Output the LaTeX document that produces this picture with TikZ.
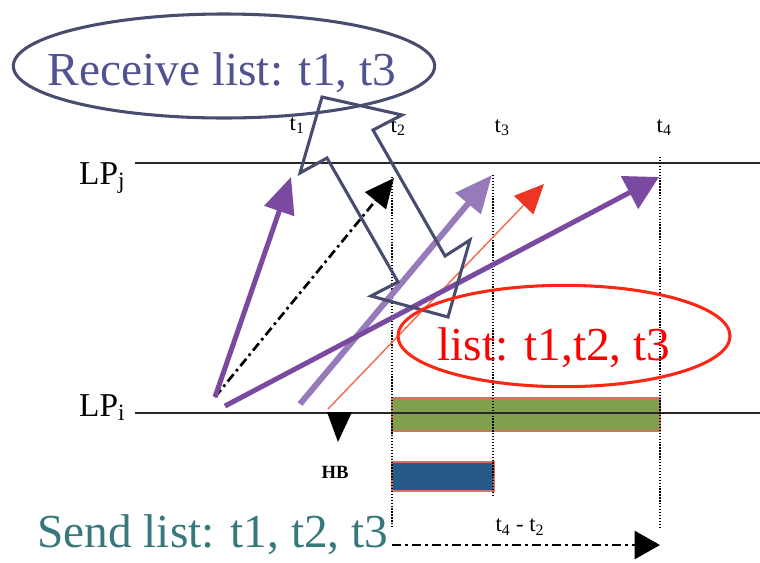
\documentclass[tikz,border=0pt]{standalone}
\usepackage{fontspec}
\setmainfont{Liberation Serif}
\usetikzlibrary{arrows.meta,shapes.geometric}
\definecolor{slateline}{RGB}{72,77,112}
\definecolor{recvtext}{RGB}{80,82,145}
\definecolor{purparrow}{RGB}{122,74,160}
\definecolor{lightpurp}{RGB}{150,122,186}
\definecolor{orangeline}{RGB}{242,112,80}
\definecolor{orangehead}{RGB}{238,52,35}
\definecolor{greenbar}{RGB}{128,160,75}
\definecolor{barborder}{RGB}{215,112,95}
\definecolor{bluebar}{RGB}{38,90,135}
\definecolor{tealtext}{RGB}{55,120,125}
\definecolor{redline}{RGB}{250,40,20}
\definecolor{axisgray}{RGB}{40,40,40}
\tikzset{
  bigtext/.style={font=\fontsize{35.5}{40}\selectfont},
  lplabel/.style={font=\fontsize{25}{28}\selectfont, anchor=base east},
  tlabel/.style={font=\fontsize{17}{19}\selectfont, anchor=base west},
  axis/.style={draw=axisgray, line width=1.8pt},
  guide/.style={draw=black, line width=1pt, dash pattern=on 1pt off 1.2pt},
  dashdot/.style={dash pattern=on 7pt off 3pt on 2pt off 3pt},
  bar/.style={draw=barborder, line width=0.8pt},
}
\begin{document}
\begin{tikzpicture}[x=0.75pt,y=-0.75pt]
\useasboundingbox (0,0) rectangle (760,562);

% bars
\draw[bar, fill=greenbar] (392,398) rectangle (660,431);
\draw[bar, fill=bluebar] (392,462) rectangle (494,491);

% time lines
\coordinate (j0) at (135,163); \coordinate (j1) at (760,163);
\coordinate (i0) at (135,413); \coordinate (i1) at (760,413);
\draw[axis] (j0) -- (j1);
\draw[axis] (i0) -- (i1);
\node[lplabel] (lpj) at (130,184) {LP\textsubscript{j}};
\node[lplabel] (lpi) at (130,416) {LP\textsubscript{i}};

% guides
\coordinate (g2a) at (392,177); \coordinate (g2b) at (392,528);
\coordinate (g3a) at (493,175); \coordinate (g3b) at (493,497);
\coordinate (g4a) at (660,157); \coordinate (g4b) at (660,528);
\draw[guide] (g2a) -- (g2b);
\draw[guide] (g3a) -- (g3b);
\draw[guide] (g4a) -- (g4b);

% t labels
\node[tlabel] (t1) at (285,130) {t\textsubscript{1}};
\node[tlabel] (t2) at (386,132) {t\textsubscript{2}};
\node[tlabel] (t3) at (490,132) {t\textsubscript{3}};
\node[tlabel] (t4) at (652,132) {t\textsubscript{4}};

% messages
\coordinate (s1) at (215,397); \coordinate (e1) at (291,177);
\coordinate (e2) at (394,178);
\coordinate (s3) at (300,404); \coordinate (e3) at (492,175);
\coordinate (s4) at (328,409); \coordinate (e4) at (544,184);
\coordinate (s5) at (225,406); \coordinate (e5) at (659,177);
\draw[draw=black, line width=2pt, dashdot, -{Triangle[length=22pt,width=20pt]}] (s1) -- (e2);
\draw[draw=purparrow, line width=3.75pt, -{Triangle[length=27pt,width=23pt]}] (s1) -- (e1);
\draw[draw=lightpurp, line width=4.5pt, -{Triangle[length=28pt,width=24pt]}] (s3) -- (e3);
\draw[draw=orangeline, line width=1.1pt, -{Triangle[length=22pt,width=20pt,color=orangehead]}] (s4) -- (e4);
\draw[draw=purparrow, line width=3.75pt, -{Triangle[length=25pt,width=27pt]}] (s5) -- (e5);

% HB marker
\fill[black] (327,412) -- (352,412) -- (338,442) -- cycle;
\node[font=\fontsize{14}{16}\selectfont\bfseries] (hb) at (335,472) {HB};

% t4 - t2 interval
\coordinate (d0) at (392,545); \coordinate (d1) at (660,545);
\draw[black, line width=2pt, dashdot, -{Triangle[length=19pt,width=21pt]}] (d0) -- (d1);
\node[font=\fontsize{17}{19}\selectfont] (dt) at (520,527) {t\textsubscript{4} - t\textsubscript{2}};

% hollow double arrow
\draw[slateline, line width=2.3pt, line join=miter]
  (322,97) -- (402,115) -- (373,130) -- (445,256) -- (470,240) -- (448,317)
  -- (371,296) -- (398,282) -- (327,158) -- (300,173) -- cycle;

% receive ellipse
\node[ellipse, draw=slateline, line width=2.3pt, minimum width=316pt, minimum height=78pt, inner sep=0pt] (recv) at (224,66) {};
\node[bigtext, text=recvtext, anchor=base] (recvtxt) at (222,85) {Receive list: t1, t3};

% red ellipse
\node[ellipse, draw=redline, line width=2.3pt, minimum width=249pt, minimum height=76pt, inner sep=0pt] (lst) at (564,336) {};
\node[bigtext, text=red, anchor=base] (lsttxt) at (554,360) {list: t1,t2, t3};

% send list
\node[bigtext, text=tealtext, anchor=base west, inner sep=0pt] (send) at (37,547) {Send list: t1, t2, t3};
\end{tikzpicture}
\end{document}
